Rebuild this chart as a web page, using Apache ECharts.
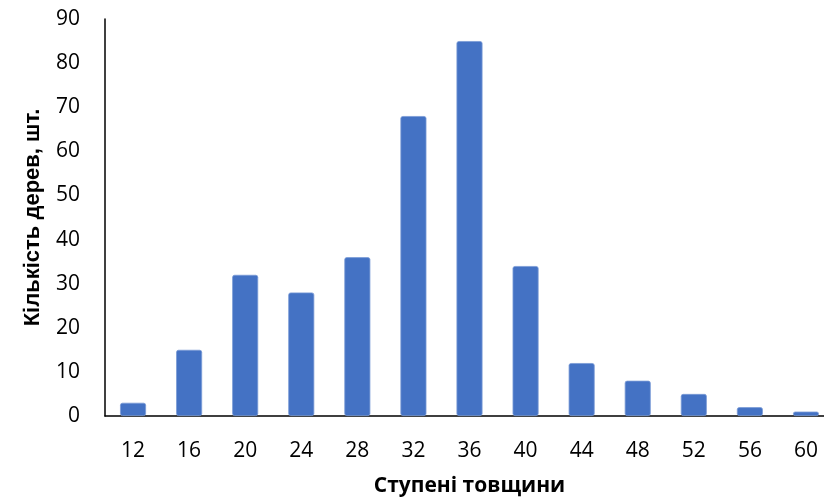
<!DOCTYPE html>
<html>
<head>
<meta charset="utf-8">
<style>
  html, body { margin: 0; padding: 0; background: #ffffff; overflow: hidden; }
  /* the plot area runs slightly past the right edge of the window */
  #chart { width: 834px; height: 504px; }
</style>
<script src="https://cdn.jsdelivr.net/npm/echarts@6/dist/echarts.min.js"></script>
</head>
<body>
<div id="chart"></div>
<script>
// Thickness classes (cm) and the number of trees in each
const categories = ['12', '16', '20', '24', '28', '32', '36', '40', '44', '48', '52', '56', '60'];
const treeCounts = [3, 15, 32, 28, 36, 68, 85, 34, 12, 8, 5, 2, 1];
const yTicks = { min: 0, max: 90, interval: 10 };

const chart = echarts.init(document.getElementById('chart'), null, { renderer: 'canvas' });

chart.setOption({
  animation: false,
  backgroundColor: '#ffffff',
  grid: { left: 105, right: 0, top: 19, bottom: 88, containLabel: false },
  xAxis: {
    type: 'category',
    data: categories,
    boundaryGap: true,
    name: 'Ступені товщини',
    nameLocation: 'middle',
    nameGap: 60,
    nameTextStyle: { fontFamily: 'Open Sans', fontWeight: 'bold', fontSize: 21, color: '#000000' },
    axisLine: { show: true, lineStyle: { color: '#000000', width: 1.5 } },
    axisTick: { show: false },
    axisLabel: { fontFamily: 'Open Sans', fontSize: 21, color: '#000000', margin: 25 }
  },
  yAxis: {
    type: 'value',
    min: yTicks.min,
    max: yTicks.max,
    interval: yTicks.interval,
    name: 'Кількість дерев, шт.',
    nameLocation: 'middle',
    nameGap: 61,
    nameTextStyle: { fontFamily: 'Liberation Sans', fontWeight: 'bold', fontSize: 22, color: '#000000' },
    axisLine: { show: true, lineStyle: { color: '#000000', width: 1.5 } },
    axisTick: { show: false },
    splitLine: { show: false },
    axisLabel: { fontFamily: 'Open Sans', fontSize: 21, color: '#000000', margin: 25 }
  },
  series: [{
    type: 'bar',
    data: treeCounts,
    barWidth: 26,
    itemStyle: { color: '#4472C4', borderColor: '#7a9ad6', borderWidth: 0.8, borderRadius: 2 }
  }]
});
</script>
</body>
</html>
